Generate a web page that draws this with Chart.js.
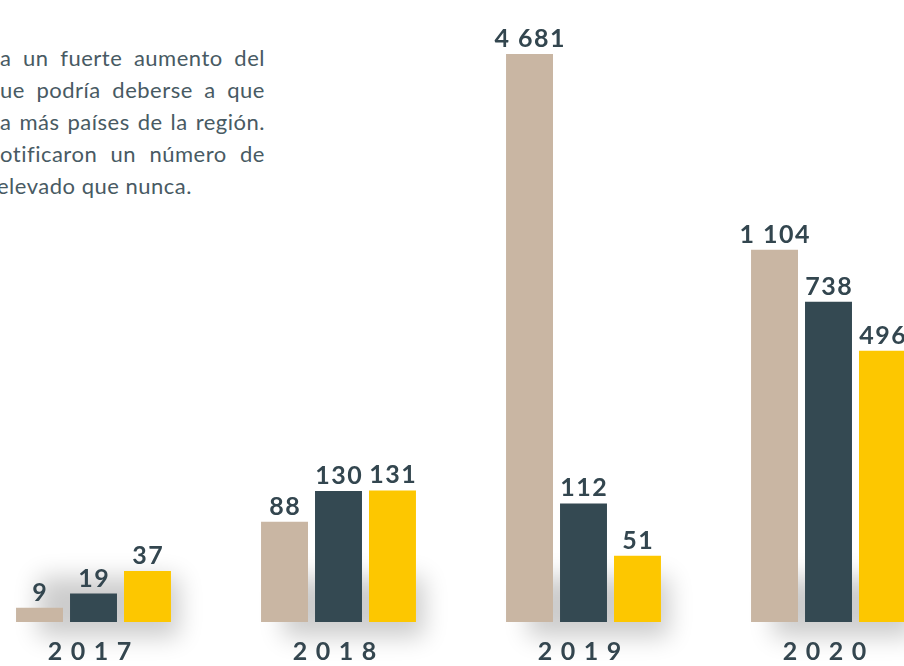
<!DOCTYPE html>
<html>
<head>
<meta charset="utf-8">
<script src="https://cdn.jsdelivr.net/npm/chart.js@4.4.1/dist/chart.umd.min.js"></script>
<style>
  html, body { margin: 0; padding: 0; background: #ffffff; }
  body { width: 904px; height: 666px; position: relative; overflow: hidden; }
  #wrap { position: absolute; left: -29px; top: 0; width: 980px; height: 666px; }
  #txt { position: absolute; left: 0; top: 42px; width: 265px;
         font-family: Lato, "Open Sans", sans-serif; font-size: 22px; line-height: 32px;
         letter-spacing: 0.5px; color: #485a63; }
  #txt div { white-space: nowrap; text-align: justify; text-align-last: justify; }
  #txt div.last { text-align-last: left; margin-left: -3px; }
</style>
</head>
<body>
<div id="txt">
  <div>a un fuerte aumento del</div>
  <div>ue podría deberse a que</div>
  <div>a más países de la región.</div>
  <div>otificaron un número de</div>
  <div class="last">elevado que nunca.</div>
</div>
<div id="wrap"><canvas id="c"></canvas></div>
<script>
// ---- data ----
const categories = ['2017', '2018', '2019', '2020'];
const seriesTan = [9, 88, 4681, 1104];
const seriesDark = [19, 130, 112, 738];
const seriesYellow = [37, 131, 51, 496];

const colors = ['#c9b6a3', '#344952', '#fdc700'];
const LABEL_COLOR = '#33464f';
const K = 85; // compression constant of the illustrative scale

// Compressed scale (height proportional to ln(1 + v/K)), like the infographic
class Log1pScale extends Chart.LinearScale {
  static id = 'log1p';
  static defaults = Chart.LinearScale.defaults;
  _f(v) { return Math.log1p(Math.max(v, 0) / K); }
  getPixelForValue(value) {
    const t = this._f(value) / this._f(this.max);
    return this.bottom - t * (this.bottom - this.top);
  }
  getValueForPixel(pixel) {
    const t = (this.bottom - pixel) / (this.bottom - this.top);
    return K * Math.expm1(t * this._f(this.max));
  }
}
Chart.register(Log1pScale);

const fmt = v => String(v).replace(/\B(?=(\d{3})+(?!\d))/g, ' ');
const maxVal = Math.max(...seriesTan, ...seriesDark, ...seriesYellow);

const shadowPlugin = {
  id: 'groupShadow',
  beforeDatasetsDraw(chart) {
    const ctx = chart.ctx;
    const m0 = chart.getDatasetMeta(0), m2 = chart.getDatasetMeta(chart.data.datasets.length - 1);
    ctx.save();
    for (let i = 0; i < categories.length; i++) {
      const a = m0.data[i], b = m2.data[i];
      const left = a.x - a.width / 2 + 14;
      const right = b.x + b.width / 2;
      const base = a.base;
      const off = 10000;
      ctx.shadowColor = 'rgba(0,0,0,0.2)';
      ctx.shadowBlur = 24;
      ctx.shadowOffsetX = off + 8;
      ctx.shadowOffsetY = 10;
      ctx.fillStyle = '#000';
      ctx.fillRect(left - off, base - 55, right - left, 60);
    }
    ctx.restore();
  }
};

const labelPlugin = {
  id: 'valueLabels',
  afterDatasetsDraw(chart) {
    const ctx = chart.ctx;
    ctx.save();
    ctx.fillStyle = LABEL_COLOR;
    ctx.font = 'bold 25px Lato, "Open Sans", sans-serif';
    ctx.textAlign = 'center';
    ctx.textBaseline = 'alphabetic';
    try { ctx.letterSpacing = '1.5px'; } catch (e) {}
    chart.data.datasets.forEach((ds, di) => {
      const meta = chart.getDatasetMeta(di);
      meta.data.forEach((el, i) => {
        ctx.fillText(fmt(ds.data[i]), el.x + 0.75, el.y - 7);
      });
    });
    // year labels
    const sp = 8.5;
    try { ctx.letterSpacing = sp + 'px'; } catch (e) {}
    ctx.textBaseline = 'middle';
    ctx.fillStyle = '#34464f';
    const xs = chart.scales.x;
    const base = chart.getDatasetMeta(0).data[0].base;
    categories.forEach((c, i) => {
      const cx = xs.getPixelForValue(i);
      ctx.fillText(c, cx + sp / 2 - 4, base + 30);
    });
    ctx.restore();
  }
};

new Chart(document.getElementById('c'), {
  type: 'bar',
  data: {
    labels: categories,
    datasets: [
      { label: 'Serie 1', data: seriesTan, backgroundColor: colors[0] },
      { label: 'Serie 2', data: seriesDark, backgroundColor: colors[1] },
      { label: 'Serie 3', data: seriesYellow, backgroundColor: colors[2] }
    ]
  },
  options: {
    responsive: true,
    maintainAspectRatio: false,
    animation: false,
    layout: { padding: { top: 54, bottom: 44, left: 0, right: 0 } },
    datasets: { bar: { categoryPercentage: 0.661, barPercentage: 0.87, borderWidth: 0 } },
    scales: {
      x: { display: false, grid: { display: false } },
      y: { type: 'log1p', display: false, min: 0, max: maxVal }
    },
    plugins: { legend: { display: false }, tooltip: { enabled: false } }
  },
  plugins: [shadowPlugin, labelPlugin]
});
</script>
</body>
</html>
